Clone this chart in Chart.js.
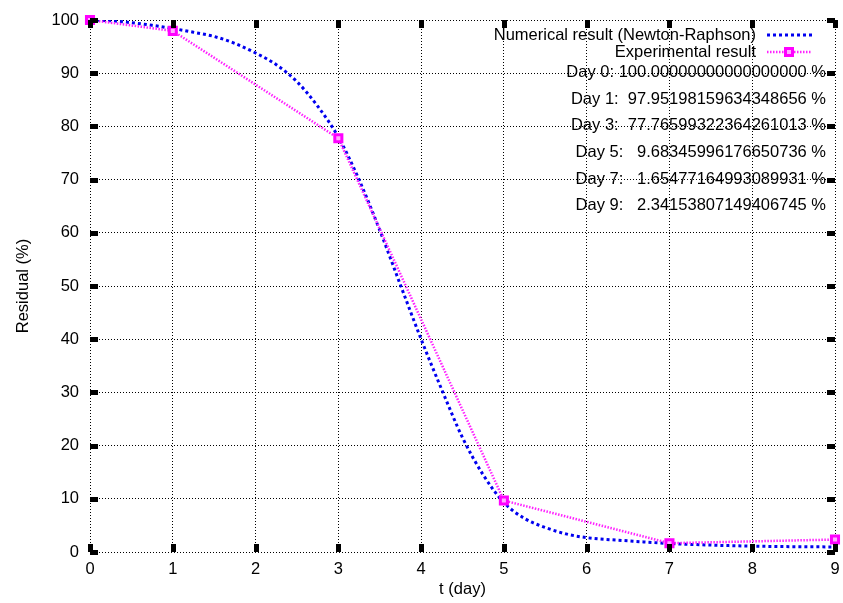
<!DOCTYPE html>
<html>
<head>
<meta charset="utf-8">
<title>Residual</title>
<script src="https://cdn.jsdelivr.net/npm/chart.js"></script>
<style>
  html, body { margin: 0; padding: 0; background: #fff; }
  #wrap { width: 843px; height: 603px; }
</style>
</head>
<body>
<div id="wrap"><canvas id="residualChart" width="843" height="603"></canvas></div>
<script>
// measured points (experiment)
const expDays = [0, 1, 3, 5, 7, 9];
const expValues = [100, 97.95198159634348656, 77.76599322364261013, 9.68345996176650736, 1.65477164993089931, 2.34153807149406745];
// same values as printed in the plot labels
const expText = ['100.00000000000000000', ' 97.95198159634348656', ' 77.76599322364261013',
                 '  9.68345996176650736', '  1.65477164993089931', '  2.34153807149406745'];

// numerical curve (Newton-Raphson)
const numT = [0, 0.25, 0.5, 0.75, 1, 1.25, 1.5, 1.75, 2, 2.25, 2.5, 2.75, 3, 3.25, 3.5, 3.75,
              4, 4.25, 4.5, 4.75, 5, 5.25, 5.5, 5.75, 6, 6.5, 7, 7.5, 8, 8.5, 9];
const numValues = [100, 99.85, 99.5, 99.0, 98.4, 97.7, 96.9, 95.6, 93.8, 91.6, 88.4, 83.8, 78.0, 70.0, 60.5, 50.2,
                   40.0, 30.5, 21.5, 14.5, 9.3, 6.3, 4.6, 3.4, 2.7, 2.1, 1.6, 1.3, 1.1, 1.0, 0.95];

const xTicks = [0, 1, 2, 3, 4, 5, 6, 7, 8, 9];
const yTicks = [0, 10, 20, 30, 40, 50, 60, 70, 80, 90, 100];

const FONT = 'Liberation Sans, Arial, sans-serif';
const FSIZE = 16.5;
const BLUE = '#0000f0';
const PINK = '#ff22ff';

function drawSquare(ctx, x, y) {
    ctx.save();
    ctx.setLineDash([]);
    ctx.fillStyle = '#ffaaff';
    ctx.strokeStyle = '#ff00ff';
    ctx.lineWidth = 3;
    ctx.fillRect(x - 3.5, y - 3.5, 7, 7);
    ctx.strokeRect(x - 3.5, y - 3.5, 7, 7);
    ctx.restore();
}

// tick marks, key and text labels in gnuplot style
const decor = {
    id: 'decor',
    afterDatasetsDraw(chart) {
        const ctx = chart.ctx;
        const a = chart.chartArea;
        const xs = chart.scales.x, ys = chart.scales.y;
        ctx.save();
        ctx.fillStyle = '#000';
        xTicks.forEach(v => {
            const px = Math.round(xs.getPixelForValue(v));
            ctx.fillRect(px - 2, a.bottom - 8, 5, 8);
            ctx.fillRect(px - 2, a.top, 5, 8);
        });
        yTicks.forEach(v => {
            const py = Math.round(ys.getPixelForValue(v));
            ctx.fillRect(a.left, py - 2, 8, 5);
            ctx.fillRect(a.right - 8, py - 2, 8, 5);
        });

        ctx.font = FSIZE + 'px ' + FONT;
        ctx.textAlign = 'right';
        ctx.textBaseline = 'middle';
        ctx.fillStyle = '#000';
        // key
        const kx = a.right - 79;
        ctx.fillText(chart.data.datasets[0].label, kx, a.top + 15);
        ctx.fillText(chart.data.datasets[1].label, kx, a.top + 32);
        ctx.lineWidth = 3;
        ctx.strokeStyle = BLUE;
        ctx.setLineDash([3, 3]);
        ctx.beginPath();
        ctx.moveTo(a.right - 68, a.top + 15);
        ctx.lineTo(a.right - 23, a.top + 15);
        ctx.stroke();
        ctx.lineWidth = 2.5;
        ctx.strokeStyle = PINK;
        ctx.setLineDash([1.5, 1.5]);
        ctx.beginPath();
        ctx.moveTo(a.right - 68, a.top + 32);
        ctx.lineTo(a.right - 23, a.top + 32);
        ctx.stroke();
        drawSquare(ctx, a.right - 46, a.top + 32);

        // values of the experiment
        ctx.setLineDash([]);
        ctx.fillStyle = '#000';
        expDays.forEach((d, i) => {
            ctx.fillText('Day ' + d + ': ' + expText[i] + ' %', a.right - 9, a.top + 52.7 + i * 26.6);
        });
        ctx.restore();
    }
};

const ctx = document.getElementById('residualChart').getContext('2d');
new Chart(ctx, {
    type: 'line',
    data: {
        datasets: [{
            label: 'Numerical result (Newton-Raphson)',
            data: numT.map((t, i) => ({ x: t, y: numValues[i] })),
            borderColor: BLUE,
            borderWidth: 3,
            borderDash: [3, 3],
            cubicInterpolationMode: 'monotone',
            pointRadius: 0,
            fill: false,
            order: 1
        }, {
            label: 'Experimental result',
            data: expDays.map((d, i) => ({ x: d, y: expValues[i] })),
            borderColor: PINK,
            borderWidth: 2.5,
            borderDash: [1.5, 1.5],
            tension: 0,
            pointStyle: 'rect',
            pointRadius: 5,
            pointBorderWidth: 3,
            pointBackgroundColor: '#ffaaff',
            pointBorderColor: '#ff00ff',
            fill: false,
            clip: false,
            order: 0
        }]
    },
    options: {
        responsive: false,
        animation: false,
        events: [],
        devicePixelRatio: 1,
        layout: { padding: { top: 20, right: 7, left: 0, bottom: 0 } },
        plugins: {
            legend: { display: false },
            tooltip: { enabled: false }
        },
        scales: {
            x: {
                type: 'linear',
                min: 0, max: 9,
                afterFit: s => { s.height = 51; s.paddingLeft = 0; s.paddingRight = 0; },
                afterBuildTicks: s => { s.ticks = xTicks.map(v => ({ value: v })); },
                ticks: { color: '#000', padding: 8, font: { family: FONT, size: FSIZE } },
                grid: { color: '#000', lineWidth: 1, drawTicks: false },
                border: { display: false, dash: [1, 2] },
                title: { display: true, text: 't (day)', color: '#000', font: { family: FONT, size: FSIZE }, padding: { top: 0, bottom: 4 } }
            },
            y: {
                min: 0, max: 100,
                afterFit: s => { s.width = 90; s.paddingTop = 0; s.paddingBottom = 0; },
                afterBuildTicks: s => { s.ticks = yTicks.map(v => ({ value: v })); },
                ticks: { color: '#000', padding: 11, font: { family: FONT, size: FSIZE } },
                grid: { color: '#000', lineWidth: 1, drawTicks: false },
                border: { display: false, dash: [1, 2] },
                title: { display: true, text: 'Residual (%)', color: '#000', font: { family: FONT, size: FSIZE }, padding: { top: 14, bottom: 0 } }
            }
        }
    },
    plugins: [decor]
});
</script>
</body>
</html>
